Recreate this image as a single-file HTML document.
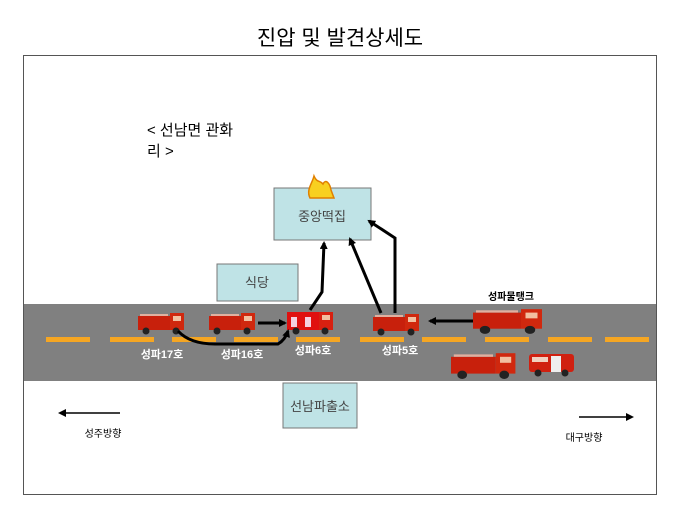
<!DOCTYPE html>
<html><head><meta charset="utf-8"><style>
body{margin:0;background:#fff;}
text{font-family:"Liberation Sans","Noto Sans CJK KR",sans-serif;}
</style></head><body>
<svg width="680" height="510" viewBox="0 0 680 510" xmlns="http://www.w3.org/2000/svg">
<defs>
<marker id="ah" markerWidth="8" markerHeight="8" refX="6" refY="4" orient="auto" markerUnits="userSpaceOnUse"><path d="M0,0 L8,4 L0,8 Z" fill="#000"/></marker>
<g id="truck">
<rect x="0" y="4" width="32" height="14" fill="#c8200c"/>
<rect x="32" y="1" width="14" height="17" fill="#d0280e"/>
<rect x="35" y="4" width="8" height="5" fill="#f2c0a0"/>
<rect x="2" y="2" width="28" height="2" fill="#e0b0a0"/>
<circle cx="8" cy="19" r="3.5" fill="#222"/>
<circle cx="38" cy="19" r="3.5" fill="#222"/>
</g>
</defs>
<text x="340" y="45" font-size="21" text-anchor="middle" fill="#000">진압 및 발견상세도</text>
<rect x="23.5" y="55.5" width="633" height="439" fill="#fff" stroke="#555" stroke-width="1"/>
<text x="147" y="135" font-size="15" fill="#000">&lt; 선남면 관화</text>
<text x="147" y="156" font-size="15" fill="#000">리 &gt;</text>
<rect x="24" y="304" width="632" height="77" fill="#808080"/>
<g fill="#f5a623">
<rect x="46" y="337" width="44" height="5"/><rect x="110" y="337" width="44" height="5"/>
<rect x="172" y="337" width="44" height="5"/><rect x="234" y="337" width="44" height="5"/>
<rect x="296" y="337" width="44" height="5"/><rect x="360" y="337" width="44" height="5"/>
<rect x="422" y="337" width="44" height="5"/><rect x="485" y="337" width="44" height="5"/>
<rect x="548" y="337" width="44" height="5"/><rect x="605" y="337" width="44" height="5"/>
</g>
<rect x="274" y="188" width="97" height="52" fill="#bfe3e6" stroke="#777"/>
<text x="322" y="221" font-size="13" text-anchor="middle" fill="#444">중앙떡집</text>
<path d="M310,198 C306,190 312,184 314,176 C317,183 320,180 323,184 C326,178 330,184 331,190 L334,198 Z" fill="#f8d020" stroke="#e08000" stroke-width="1.5"/>
<rect x="217" y="264" width="81" height="37" fill="#bfe3e6" stroke="#777"/>
<text x="257" y="287" font-size="13" text-anchor="middle" fill="#444">식당</text>
<rect x="283" y="383" width="74" height="45" fill="#bfe3e6" stroke="#777"/>
<text x="320" y="411" font-size="13" text-anchor="middle" fill="#444">선남파출소</text>
<use href="#truck" x="138" y="312"/>
<use href="#truck" x="209" y="312"/>
<g transform="translate(287,309)">
<rect x="0" y="3" width="32" height="18" fill="#e01010"/>
<rect x="32" y="3" width="14" height="18" fill="#d82010"/>
<rect x="4" y="8" width="6" height="10" fill="#f5d0e0"/>
<rect x="18" y="8" width="6" height="10" fill="#f5d0e0"/>
<rect x="35" y="6" width="8" height="5" fill="#f2c0a0"/>
<circle cx="9" cy="22" r="3.5" fill="#222"/><circle cx="38" cy="22" r="3.5" fill="#222"/>
</g>
<use href="#truck" x="373" y="313"/>
<g transform="translate(473,308) scale(1.5,1.15)"><use href="#truck"/></g>
<g transform="translate(451,352) scale(1.4,1.2)"><use href="#truck"/></g>
<g transform="translate(529,350)">
<rect x="0" y="4" width="45" height="18" rx="3" fill="#d02010"/>
<rect x="22" y="6" width="10" height="16" fill="#eee"/>
<rect x="3" y="7" width="16" height="5" fill="#f0d0c0"/>
<circle cx="9" cy="23" r="3.5" fill="#222"/><circle cx="36" cy="23" r="3.5" fill="#222"/>
</g>
<g stroke="#000" stroke-width="3" fill="none" marker-end="url(#ah)">
<path d="M178,331 Q190,344 215,344 L278,344 Q285,340 288,331"/>
<path d="M258,323 L285,323"/>
<path d="M310,310 L322,292 L324,243"/>
<path d="M381,313 L350,239"/>
<path d="M395,313 L395,238 L369,221"/>
<path d="M473,321 L430,321"/>
</g>
<g stroke="#000" stroke-width="1.5" fill="none" marker-end="url(#ah)">
<path d="M120,413 L60,413"/>
<path d="M579,417 L632,417"/>
</g>
<g font-size="11" font-weight="bold" fill="#fff" text-anchor="middle">
<text x="162" y="358">성파17호</text>
<text x="242" y="358">성파16호</text>
<text x="313" y="354">성파6호</text>
<text x="400" y="354">성파5호</text>
</g>
<text x="511" y="300" font-size="10" font-weight="bold" text-anchor="middle" fill="#000">성파물탱크</text>
<text x="103" y="437" font-size="10" text-anchor="middle" fill="#000">성주방향</text>
<text x="584" y="441" font-size="10" text-anchor="middle" fill="#000">대구방향</text>
</svg>
</body></html>
